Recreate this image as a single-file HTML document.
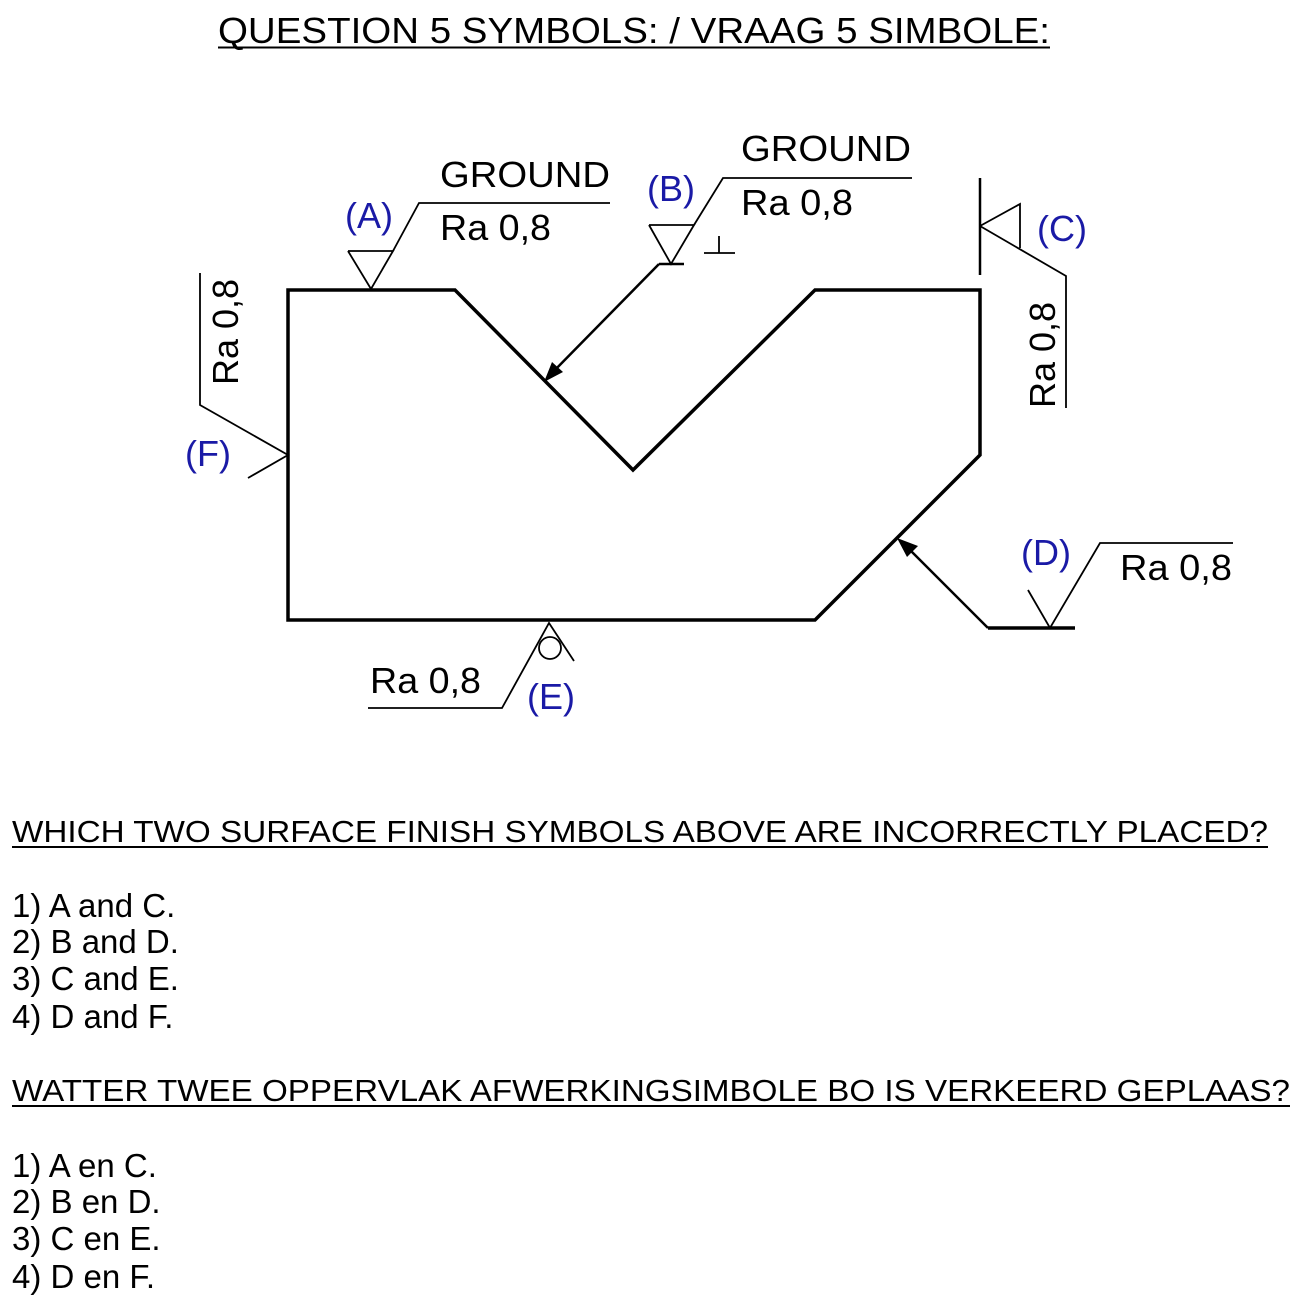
<!DOCTYPE html>
<html><head><style>html,body{margin:0;padding:0;background:#fff}svg{display:block}</style></head>
<body>
<svg width="1303" height="1306" viewBox="0 0 1303 1306" xmlns="http://www.w3.org/2000/svg" font-family="Liberation Sans, Arial, sans-serif">
<rect width="1303" height="1306" fill="#fff"/>
<g fill="#000">
<text x="218" y="43" font-size="36" textLength="832" lengthAdjust="spacingAndGlyphs">QUESTION 5 SYMBOLS: / VRAAG 5 SIMBOLE:</text>
</g>
<line x1="218" y1="47.5" x2="1050" y2="47.5" stroke="#000" stroke-width="2"/>

<polygon points="288,290 455,290 633,470 815,290 980,290 980,455 815,620 288,620" fill="none" stroke="#000" stroke-width="3.5" stroke-linejoin="miter"/>

<g fill="none" stroke="#000" stroke-width="1.8">
<polyline points="348,251 393,251 371,289 348,251"/>
<polyline points="393,251 419,203 610,203"/>
<polyline points="649,225 694,225 671,264 649,225"/>
<polyline points="694,225 723,178 912,178"/>
<line x1="659" y1="264" x2="684" y2="264" stroke-width="2.5"/>
<line x1="659" y1="264" x2="550" y2="375" stroke-width="2.5"/>
<line x1="704" y1="253" x2="735" y2="253"/>
<line x1="719" y1="253" x2="719" y2="236"/>
<line x1="980" y1="178" x2="980" y2="275" stroke-width="2.5"/>
<polyline points="980,226 1020,204 1020,248"/>
<polyline points="980,226 1066,276 1066,408"/>
<polyline points="1028,590 1050,628 1100,543 1233,543"/>
<line x1="988" y1="628" x2="1075" y2="628" stroke-width="3.5"/>
<line x1="988" y1="628" x2="902" y2="542" stroke-width="2.5"/>
<polyline points="368,708 502,708 549,623 574,661"/>
<circle cx="550" cy="648" r="11"/>
<polyline points="200,273 200,405 288,455 248,478"/>
</g>
<polygon points="544,382 552,362 563,372" fill="#000"/>
<polygon points="897,538 918,546 907,557" fill="#000"/>

<g font-size="36" fill="#000">
<text x="440" y="187" textLength="170" lengthAdjust="spacingAndGlyphs">GROUND</text>
<text x="440" y="240" textLength="111" lengthAdjust="spacingAndGlyphs">Ra 0,8</text>
<text x="741" y="161" textLength="170" lengthAdjust="spacingAndGlyphs">GROUND</text>
<text x="741" y="215" textLength="112" lengthAdjust="spacingAndGlyphs">Ra 0,8</text>
<text x="1120" y="580" textLength="112" lengthAdjust="spacingAndGlyphs">Ra 0,8</text>
<text x="370" y="693" textLength="111" lengthAdjust="spacingAndGlyphs">Ra 0,8</text>
<text transform="translate(238,385) rotate(-90)">Ra 0,8</text>
<text transform="translate(1055,408) rotate(-90)">Ra 0,8</text>
</g>
<g font-size="36" fill="#1a1aa6">
<text x="345" y="228">(A)</text>
<text x="647" y="201">(B)</text>
<text x="1037" y="241">(C)</text>
<text x="1021" y="565">(D)</text>
<text x="527" y="709">(E)</text>
<text x="185" y="466">(F)</text>
</g>

<g font-size="33" fill="#000">
<text x="12" y="842" font-size="31" textLength="1256" lengthAdjust="spacingAndGlyphs">WHICH TWO SURFACE FINISH SYMBOLS ABOVE ARE INCORRECTLY PLACED?</text>
<text x="12" y="917">1) A and C.</text>
<text x="12" y="953">2) B and D.</text>
<text x="12" y="990">3) C and E.</text>
<text x="12" y="1028">4) D and F.</text>
<text x="12" y="1101" font-size="31" textLength="1278" lengthAdjust="spacingAndGlyphs">WATTER TWEE OPPERVLAK AFWERKINGSIMBOLE BO IS VERKEERD GEPLAAS?</text>
<text x="12" y="1177">1) A en C.</text>
<text x="12" y="1213">2) B en D.</text>
<text x="12" y="1250">3) C en E.</text>
<text x="12" y="1288">4) D en F.</text>
</g>
<line x1="12" y1="847" x2="1268" y2="847" stroke="#000" stroke-width="2"/>
<line x1="12" y1="1106" x2="1290" y2="1106" stroke="#000" stroke-width="2"/>
</svg>
</body></html>
